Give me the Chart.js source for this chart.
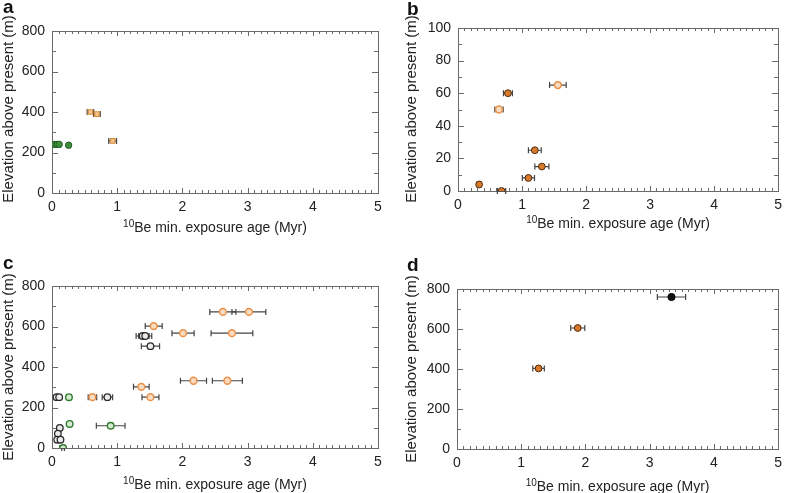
<!DOCTYPE html>
<html>
<head>
<meta charset="utf-8">
<script src="https://cdn.jsdelivr.net/npm/chart.js@4.4.0/dist/chart.umd.min.js"></script>
<style>
body { margin: 0; background: #fff; width: 788px; height: 493px; position: relative; overflow: hidden; }
canvas { position: absolute; }
</style>
</head>
<body>
<canvas id="ca" width="394" height="246" style="left:0;top:0"></canvas>
<canvas id="cb" width="394" height="246" style="left:394px;top:0"></canvas>
<canvas id="cc" width="394" height="247" style="left:0;top:246px"></canvas>
<canvas id="cd" width="394" height="247" style="left:394px;top:246px"></canvas>
<script>
// ---- data (Myr, m, +/- Myr) ----
var ageTicks = [0, 1, 2, 3, 4, 5];

// panel a
var aOrangeAge  = [0.59, 0.69, 0.93];
var aOrangeElev = [400, 390, 257];
var aOrangeErr  = [0.05, 0.05, 0.06];
var aGreenAge   = [0.04, 0.08, 0.11, 0.255];
var aGreenElev  = [240, 240, 240, 236];
var aGreenErr   = [0.02, 0.02, 0.02, 0.02];

// panel b
var bDarkAge  = [0.33, 0.68, 0.78, 1.20, 1.31, 1.10];
var bDarkElev = [4, 0, 60, 25, 15, 8];
var bDarkErr  = [0.03, 0.065, 0.07, 0.10, 0.11, 0.095];
var bLightAge  = [0.64, 1.56];
var bLightElev = [50, 65];
var bLightErr  = [0.065, 0.13];

// panel c
var cOrangeAge  = [2.62, 3.02, 1.56, 2.01, 2.76, 2.17, 2.69, 1.37, 1.51, 0.62];
var cOrangeElev = [672, 672, 602, 567, 567, 332, 332, 302, 251, 251];
var cOrangeErr  = [0.20, 0.26, 0.13, 0.17, 0.32, 0.20, 0.23, 0.12, 0.13, 0.065];
var cBlackAge  = [1.39, 1.43, 1.51, 0.85, 0.07, 0.11, 0.12, 0.09, 0.08, 0.13];
var cBlackElev = [553, 553, 503, 251, 251, 251, 99, 71, 41, 41];
var cBlackErr  = [0.10, 0.10, 0.14, 0.08, 0.02, 0.02, 0.02, 0.02, 0.02, 0.02];
var cGreenAge  = [0.26, 0.27, 0.90, 0.17];
var cGreenElev = [251, 119, 110, 0];
var cGreenErr  = [0.03, 0.03, 0.22, 0.02];

// panel d
var dOrangeAge  = [1.27, 1.88];
var dOrangeElev = [403, 605];
var dOrangeErr  = [0.09, 0.11];
var dBlackAge  = [3.34];
var dBlackElev = [760];
var dBlackErr  = [0.22];

var FONT = '"Liberation Sans", Arial, Helvetica, sans-serif';

function pts(ages, elev) {
  return ages.map(function (a, i) { return { x: a, y: elev[i] }; });
}

// marker styles
var lightOrange = { backgroundColor: '#f9dcc0', borderColor: '#eb9048', pointRadius: 3.4, borderWidth: 1.5 };
var darkOrange  = { backgroundColor: '#d9792a', borderColor: '#4a2a10', pointRadius: 3.4, borderWidth: 1 };
var squareOrange = { backgroundColor: '#f6c894', borderColor: '#d88f3c', pointRadius: 3.2, borderWidth: 1.2, pointStyle: 'rect' };
var blackOpen   = { backgroundColor: '#ececec', borderColor: '#2a2a2a', pointRadius: 3.3, borderWidth: 1.3 };
var blackFill   = { backgroundColor: '#111', borderColor: '#000', pointRadius: 3.6, borderWidth: 1 };
var greenOpen   = { backgroundColor: '#d7ebd0', borderColor: '#2f7a2f', pointRadius: 3.3, borderWidth: 1.4 };
var greenFill   = { backgroundColor: '#3f8f3f', borderColor: '#1f5a1f', pointRadius: 3.2, borderWidth: 1 };

function ds(ages, elev, errs, style) {
  return Object.assign({ data: pts(ages, elev), xerr: errs, pointStyle: 'circle' }, style);
}

// error bars, drawn under the markers
var errorBars = {
  id: 'errorBars',
  beforeDatasetsDraw: function (chart) {
    var ctx = chart.ctx, xs = chart.scales.x, ys = chart.scales.y;
    ctx.save();
    ctx.strokeStyle = '#444';
    ctx.lineWidth = 1.2;
    chart.data.datasets.forEach(function (d) {
      d.data.forEach(function (p, j) {
        var e = d.xerr[j];
        var x1 = xs.getPixelForValue(p.x - e), x2 = xs.getPixelForValue(p.x + e);
        var y = ys.getPixelForValue(p.y);
        ctx.beginPath();
        ctx.moveTo(x1, y); ctx.lineTo(x2, y);
        ctx.moveTo(x1, y - 3); ctx.lineTo(x1, y + 3);
        ctx.moveTo(x2, y - 3); ctx.lineTo(x2, y + 3);
        ctx.stroke();
      });
    });
    ctx.restore();
  }
};

// box with inward ticks on all four sides
var frame = {
  id: 'frame',
  beforeDatasetsDraw: function (chart, args, o) {
    var ctx = chart.ctx, a = chart.chartArea, xs = chart.scales.x, ys = chart.scales.y;
    ctx.save();
    ctx.strokeStyle = '#6a6a6a';
    ctx.lineWidth = 1;
    ctx.strokeRect(Math.round(a.left) + 0.5, Math.round(a.top) + 0.5,
                   Math.round(a.right - a.left), Math.round(a.bottom - a.top));
    ctx.beginPath();
    var n = Math.round((xs.max - xs.min) / 0.1);
    for (var i = 0; i <= n; i++) {
      var px = Math.round(xs.getPixelForValue(xs.min + i * 0.1)) + 0.5;
      var len = (i % 10 === 0) ? 5 : 3;
      ctx.moveTo(px, a.bottom); ctx.lineTo(px, a.bottom - len);
      ctx.moveTo(px, a.top); ctx.lineTo(px, a.top + len);
    }
    var m = Math.round(ys.max / o.yMinor);
    var per = Math.round(o.yMajor / o.yMinor);
    for (var k = 0; k <= m; k++) {
      var py = Math.round(ys.getPixelForValue(k * o.yMinor)) + 0.5;
      var l2 = (k % per === 0) ? 6 : 4;
      ctx.moveTo(a.left, py); ctx.lineTo(a.left + l2, py);
      ctx.moveTo(a.right, py); ctx.lineTo(a.right - l2, py);
    }
    ctx.stroke();
    ctx.restore();
  }
};

// panel letter, axis titles (x title has a superscript)
var titles = {
  id: 'titles',
  afterDraw: function (chart, args, o) {
    var ctx = chart.ctx, a = chart.chartArea;
    ctx.save();
    ctx.fillStyle = '#111';
    ctx.textBaseline = 'alphabetic';
    ctx.textAlign = 'left';
    ctx.font = 'bold 19px ' + FONT;
    ctx.fillText(o.letter, o.letterX, o.letterY);

    ctx.fillStyle = '#222';
    ctx.font = '15px ' + FONT;
    ctx.save();
    ctx.translate(o.yTitleX, o.yTitleY);
    ctx.rotate(-Math.PI / 2);
    ctx.textAlign = 'center';
    ctx.textBaseline = 'middle';
    ctx.fillText('Elevation above present (m)', 0, 0);
    ctx.restore();

    var sup = '10', rest = 'Be min. exposure age (Myr)';
    ctx.font = '10px ' + FONT;
    var ws = ctx.measureText(sup).width;
    ctx.font = '14px ' + FONT;
    var wr = ctx.measureText(rest).width;
    var cx = (a.left + a.right) / 2;
    var x0 = cx - (ws + wr) / 2;
    ctx.textBaseline = 'alphabetic';
    ctx.textAlign = 'left';
    ctx.fillText(rest, x0 + ws, o.xTitleY);
    ctx.font = '10px ' + FONT;
    ctx.fillText(sup, x0, o.xTitleY - 5);
    ctx.restore();
  }
};

function makePanel(id, p) {
  var canvas = document.getElementById(id);
  var W = canvas.width, H = canvas.height;
  var tickFont = { size: 14, family: FONT };
  return new Chart(canvas.getContext('2d'), {
    type: 'scatter',
    data: { datasets: p.datasets },
    options: {
      responsive: false,
      animation: false,
      devicePixelRatio: 1,
      layout: { padding: { left: 0, right: W - p.area.right, top: p.area.top, bottom: 0 } },
      plugins: {
        legend: { display: false },
        tooltip: { enabled: false },
        frame: { yMinor: p.yMinor, yMajor: p.yStep },
        titles: p.titles
      },
      scales: {
        x: {
          type: 'linear', min: 0, max: 5,
          afterBuildTicks: function (s) { s.ticks = ageTicks.map(function (v) { return { value: v }; }); },
          ticks: { padding: 6, color: '#222', font: tickFont, maxRotation: 0 },
          grid: { display: false, drawTicks: false },
          border: { display: false },
          afterFit: function (s) { s.height = H - p.area.bottom; }
        },
        y: {
          type: 'linear', min: 0, max: p.yMax,
          afterBuildTicks: function (s) { s.ticks = p.yTicks.map(function (v) { return { value: v }; }); },
          ticks: { padding: 7, color: '#222', font: tickFont },
          grid: { display: false, drawTicks: false },
          border: { display: false },
          afterFit: function (s) { s.width = p.area.left; }
        }
      }
    },
    plugins: [frame, errorBars, titles]
  });
}

var elevTicks800 = [0, 200, 400, 600, 800];
var elevTicks100 = [0, 20, 40, 60, 80, 100];

makePanel('ca', {
  area: { left: 52, right: 378, top: 31, bottom: 193 },
  yMax: 800, yStep: 200, yMinor: 100, yTicks: elevTicks800,
  titles: { letter: 'a', letterX: 3, letterY: 13, yTitleX: 9, yTitleY: 109, xTitleY: 232 },
  datasets: [
    ds(aGreenAge, aGreenElev, aGreenErr, greenFill),
    ds(aOrangeAge, aOrangeElev, aOrangeErr, squareOrange)
  ]
});

makePanel('cb', {
  area: { left: 64, right: 388, top: 28, bottom: 191 },
  yMax: 100, yStep: 20, yMinor: 10, yTicks: elevTicks100,
  titles: { letter: 'b', letterX: 13, letterY: 15, yTitleX: 18, yTitleY: 109, xTitleY: 228 },
  datasets: [
    ds(bDarkAge, bDarkElev, bDarkErr, darkOrange),
    ds(bLightAge, bLightElev, bLightErr, lightOrange)
  ]
});

makePanel('cc', {
  area: { left: 52, right: 378, top: 40, bottom: 202 },
  yMax: 800, yStep: 200, yMinor: 100, yTicks: elevTicks800,
  titles: { letter: 'c', letterX: 3, letterY: 23, yTitleX: 9, yTitleY: 121, xTitleY: 243 },
  datasets: [
    ds(cBlackAge, cBlackElev, cBlackErr, blackOpen),
    ds(cGreenAge, cGreenElev, cGreenErr, greenOpen),
    ds(cOrangeAge, cOrangeElev, cOrangeErr, lightOrange)
  ]
});

makePanel('cd', {
  area: { left: 63, right: 388, top: 43, bottom: 203 },
  yMax: 800, yStep: 200, yMinor: 100, yTicks: elevTicks800,
  titles: { letter: 'd', letterX: 13, letterY: 25, yTitleX: 18, yTitleY: 123, xTitleY: 245 },
  datasets: [
    ds(dOrangeAge, dOrangeElev, dOrangeErr, darkOrange),
    ds(dBlackAge, dBlackElev, dBlackErr, blackFill)
  ]
});
</script>
</body>
</html>
